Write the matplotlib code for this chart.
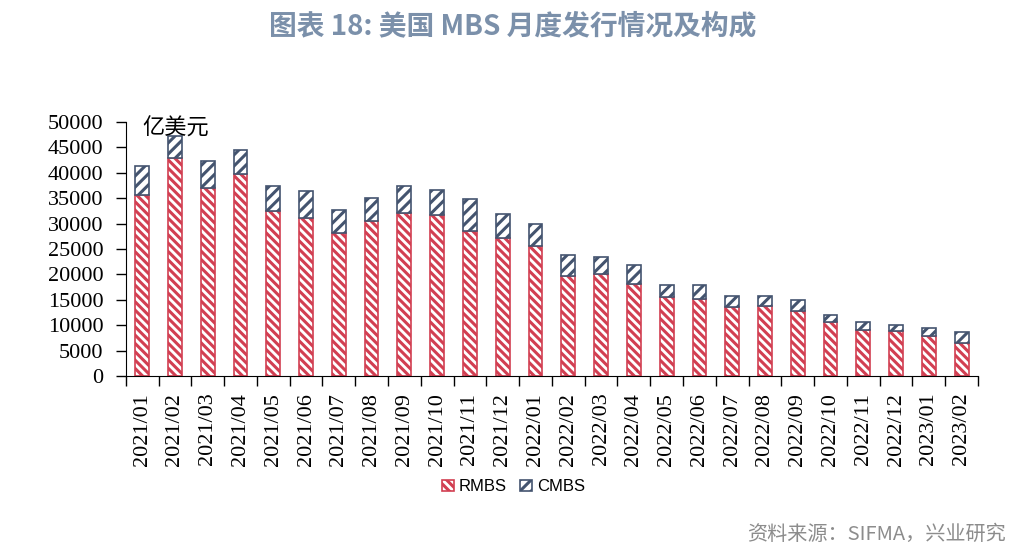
import matplotlib
matplotlib.use('Agg')
import matplotlib.pyplot as plt
import numpy as np

months = ['2021/01', '2021/02', '2021/03', '2021/04', '2021/05', '2021/06', '2021/07',
          '2021/08', '2021/09', '2021/10', '2021/11', '2021/12', '2022/01', '2022/02',
          '2022/03', '2022/04', '2022/05', '2022/06', '2022/07', '2022/08', '2022/09',
          '2022/10', '2022/11', '2022/12', '2023/01', '2023/02']
# 亿美元
rmbs = [35600, 43000, 37100, 39800, 32400, 31000, 28200, 30600, 32000, 31600, 28600, 27100, 25500,
        19700, 20000, 18200, 15500, 15200, 13600, 13700, 12700, 10700, 9100, 8800, 7900, 6400]
total = [41400, 47200, 42300, 44400, 37300, 36400, 32600, 35000, 37300, 36700, 34800, 31800, 29900,
         23800, 23400, 21800, 17900, 17900, 15700, 15700, 14900, 12100, 10600, 10000, 9400, 8600]
cmbs = [t - r for t, r in zip(total, rmbs)]

red = '#d23f52'
blue = '#44546f'

plt.rcParams['hatch.linewidth'] = 2.2
fig = plt.figure(figsize=(10.19, 5.57), dpi=100)
ax = fig.add_axes([0.1234, 0.325, 0.8364, 0.456])

x = np.arange(len(months))
w = 0.42
ax.bar(x, rmbs, w, color='white', edgecolor=red, hatch='\\\\\\\\', linewidth=1.2, label='RMBS')
ax.bar(x, cmbs, w, bottom=rmbs, color='white', edgecolor=blue, hatch='///', linewidth=1.2, label='CMBS')

ax.set_xlim(-0.5, len(months) - 0.5)
ax.set_ylim(0, 50000)
ax.set_yticks(range(0, 50001, 5000))
ax.set_xticks(x)
ax.set_xticklabels(months, rotation=90, fontfamily='Liberation Serif', fontsize=16)
ax.set_xticks(np.arange(-0.5, len(months), 1), minor=True)
ax.tick_params(axis='x', which='major', length=0, pad=12)
ax.tick_params(axis='x', which='minor', length=7, width=1, direction='out')
ax.tick_params(axis='y', length=7, width=1, direction='out', pad=9)
for lab in ax.get_yticklabels():
    lab.set_fontfamily('Liberation Serif')
    lab.set_fontsize(16)
ax.spines['top'].set_visible(False)
ax.spines['right'].set_visible(False)

ax.text(0.02, 0.975, '亿美元', transform=ax.transAxes, fontfamily='Noto Sans CJK SC',
        fontsize=16, va='center', ha='left')

ax.legend(loc='center', bbox_to_anchor=(0.455, -0.437), ncol=2, frameon=False,
          prop={'family': 'Liberation Sans', 'size': 12}, handlelength=0.7, handleheight=0.7,
          handletextpad=0.3, columnspacing=0.8)

fig.text(0.503, 0.952, '图表 18: 美国 MBS 月度发行情况及构成', ha='center', va='center',
         fontfamily='Noto Sans CJK SC', fontweight='bold', fontsize=20, color='#7b90aa')
fig.text(0.987, 0.04, '资料来源：SIFMA，兴业研究', ha='right', va='center',
         fontfamily='Noto Sans CJK SC', fontsize=14.5, color='#8c8c8c')

fig.savefig('out.png', dpi=100)
